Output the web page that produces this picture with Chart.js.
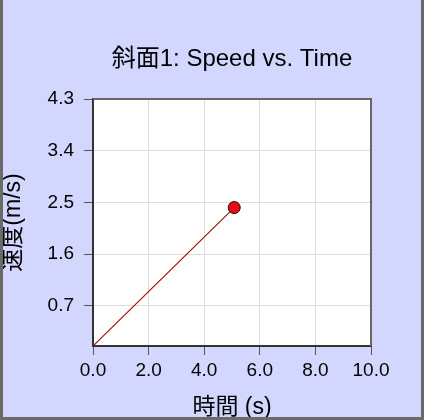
<!DOCTYPE html>
<html>
<head>
<meta charset="utf-8">
<script src="https://cdn.jsdelivr.net/npm/chart.js@4/dist/chart.umd.min.js"></script>
<style>
  html, body { margin: 0; padding: 0; }
  body { width: 424px; height: 420px; position: relative; background: rgb(211,215,255); overflow: hidden; }
  #wrap { position: absolute; left: 0; top: 0; width: 424px; height: 420px; }
  .bd { position: absolute; background: #6a6a6a; }
</style>
</head>
<body>
<div id="wrap"><canvas id="c" width="424" height="420"></canvas></div>
<div class="bd" style="left:0;top:0;width:3px;height:420px;"></div>
<div class="bd" style="right:0;top:0;width:3px;height:420px;"></div>
<div class="bd" style="left:0;bottom:0;width:424px;height:3px;"></div>
<script>
const chartTitle = '斜面1: Speed vs. Time';
const xAxisTitle = '時間 (s)';
const yAxisTitle = '速度(m/s)';
const timeValues = [0, 5.08];
const speedValues = [0, 2.41];
const xTickValues = [0, 2, 4, 6, 8, 10];
const yTickValues = [0.7, 1.6, 2.5, 3.4, 4.3];

const FONT = '"Liberation Sans", "Noto Sans CJK JP", sans-serif';

const points = timeValues.map((t, i) => ({ x: t, y: speedValues[i] }));

const framePlugin = {
  id: 'frame',
  beforeDraw(chart) {
    const { ctx, chartArea: a } = chart;
    ctx.save();
    ctx.fillStyle = '#ffffff';
    ctx.fillRect(a.left, a.top, a.right - a.left, a.bottom - a.top);
    ctx.restore();
  },
  afterLayout(chart) {
    if (chart.titleBlock) {
      chart.titleBlock.left = chart.chartArea.left;
      chart.titleBlock.right = chart.chartArea.right;
    }
  },
  beforeDatasetsDraw(chart) {
    const { ctx, chartArea: a } = chart;
    ctx.save();
    ctx.strokeStyle = '#666666';
    ctx.lineWidth = 2;
    ctx.beginPath();
    ctx.moveTo(a.left, a.top);
    ctx.lineTo(a.right, a.top);
    ctx.lineTo(a.right, a.bottom);
    ctx.stroke();
    ctx.restore();
  }
};

new Chart(document.getElementById('c'), {
  type: 'scatter',
  data: {
    datasets: [{
      data: points,
      showLine: true,
      borderColor: '#a01010',
      borderWidth: 1.2,
      pointRadius: [0, 6],
      pointBackgroundColor: '#ee0a14',
      pointBorderColor: '#111111',
      pointBorderWidth: 1,
      tension: 0
    }]
  },
  plugins: [framePlugin],
  options: {
    responsive: false,
    animation: false,
    events: [],
    layout: { padding: { left: 0, right: 53, top: 0, bottom: 0 } },
    plugins: {
      legend: { display: false },
      tooltip: { enabled: false },
      title: {
        display: true,
        text: chartTitle,
        color: '#000',
        font: { family: FONT, size: 24, weight: 'normal', lineHeight: 1.2 },
        padding: { top: 44.6, bottom: 25.6 }
      }
    },
    scales: {
      x: {
        type: 'linear',
        min: 0,
        max: 10,
        afterBuildTicks(scale) { scale.ticks = xTickValues.map(v => ({ value: v })); },
        afterFit(scale) { scale.height = 74; },
        ticks: {
          color: '#000',
          padding: 4,
          font: { family: FONT, size: 19 },
          callback: v => Number(v).toFixed(1)
        },
        grid: { color: '#dcdcdc', tickColor: '#555', tickLength: 9, lineWidth: 1 },
        border: { color: '#333', width: 2 },
        title: {
          display: true,
          text: xAxisTitle,
          color: '#000',
          font: { family: FONT, size: 23, lineHeight: 1.2 },
          padding: { top: 0, bottom: -1 }
        }
      },
      y: {
        type: 'linear',
        min: 0,
        max: 4.3,
        afterBuildTicks(scale) { scale.ticks = yTickValues.map(v => ({ value: v })); },
        afterFit(scale) { scale.width = 93; },
        ticks: {
          color: '#000',
          padding: 10,
          font: { family: FONT, size: 19 },
          callback: v => Number(v).toFixed(1)
        },
        grid: { color: '#dcdcdc', tickColor: '#555', tickLength: 9, lineWidth: 1 },
        border: { color: '#333', width: 2 },
        title: {
          display: true,
          text: yAxisTitle,
          color: '#000',
          font: { family: FONT, size: 23, lineHeight: 1.2 },
          padding: { top: 0, bottom: 0 }
        }
      }
    }
  }
});
</script>
</body>
</html>
